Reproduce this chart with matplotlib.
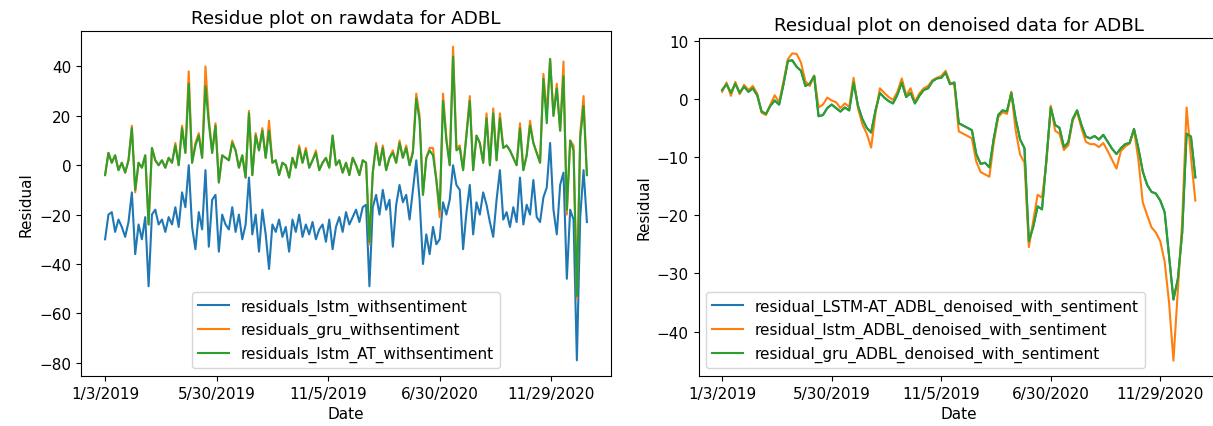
import numpy as np
import matplotlib
matplotlib.use('Agg')
import matplotlib.pyplot as plt

# trading-day positions of the date labels
tick_index = [0, 100, 200, 300, 400]
tick_labels = ['1/3/2019', '5/30/2019', '11/5/2019', '6/30/2020', '11/29/2020']

# raw data residuals, read every 3rd trading day
raw_lstm = [-30, -20, -19, -27, -22, -25, -29, -23, -11, -36, -24, -30, -21, -49, -20, -18, -24,
            -22, -27, -21, -24, -17, -25, -11, -17, 0, -25, -34, -19, -26, -2, -33, -14, -12, -35,
            -20, -24, -26, -17, -27, -20, -30, -24, -5, -28, -20, -35, -18, -28,
            -42, -24, -27, -22, -29, -25, -35, -22, -27, -20, -29, -24, -28, -23, -30, -26, -24,
            -31, -22, -34, -25, -21, -27, -19, -24, -21, -18, -23, -17, -16, -49, -17, -12, -20,
            -10, -18, -14, -33, -16, -8, -15, -12, -22, -10, 2, -14,
            -40, -28, -36, -25, -32, -30, -15, -20, -14, 0, -8, -10, -34, -19, -8, -28, -15, -20,
            -11, -16, -23, -29, -14, -2, -22, -19, -25, -17, -23, -5, -24, -16, -20, -6, -21, -23,
            -13, -9, 9, -18, -28, -8, -3, -46, -18, -22, -79, -21, -2, -23]
raw_gru = [-4, 5, 1, 4, -2, 1, -3, 2, 16, -11, 1, -1, 4, -24, 7, 2, 0, 2, -1, 3, 1, 9, 0, 16, 5,
           38, 1, 9, 13, 3, 40, 19, 5, 17, -7, 4, 3, 2, 10, 6, -1, 4, -5, 22, -4, 13, 6, 15, 3,
           18, 1, 2, -4, 1, 0, -5, 3, -1, 8, 1, 7, -1, 2, 6, -2, 1, 3, -1, 12, 0, 2, -3, 1, -4,
           3, 0, -4, 2, 1, -32, -3, 9, 0, 8, -2, 3, 6, 1, 10, 3, 8, 0, 6, 29, 20,
           -12, 3, 7, 7, -6, -21, 29, 11, 0, 48, 7, 8, -2, 13, 28, -2, 12, 9, 1, 21, 0, 23, 2,
           21, 7, 8, 6, 3, 0, 17, -2, 4, 18, 9, 5, 1, 37, 21, 43, 20, 33, 14, 42, -20, 10, 8,
           -54, 13, 28, -4]
raw_lstm_at = [-4, 5, 1, 4, -2, 1, -3, 2, 15, -10, 1, -1, 4, -24, 7, 2, 0, 2, -1, 3, 1, 8, 0, 15,
               5, 33, 1, 8, 12, 3, 32, 17, 5, 16, -7, 4, 3, 2, 9, 6, -1, 4, -5, 21, -4, 12, 6, 14, 3,
               14, 1, 2, -4, 1, 0, -5, 3, -1, 7, 1, 6, -1, 2, 5, -2, 1, 3, -1, 12, 0, 2, -3, 1, -4,
               3, 0, -4, 2, 1, -31, -3, 8, 0, 7, -2, 3, 5, 1, 9, 3, 7, 0, 5, 27, 18,
               -12, 3, 6, 4, -6, -18, 26, 10, 0, 44, 6, 7, -2, 12, 26, -2, 12, 9, 1, 19, 0, 21, 2,
               19, 7, 8, 6, 3, 0, 15, -2, 4, 16, 9, 5, 1, 35, 17, 43, 20, 31, 14, 36, -18, 10, 6,
               -53, 11, 24, -4]

# denoised data residuals, read every 4th trading day
dn_gru = [1.5, 2.5, 1.0, 2.6, 1.0, 2.1, 1.2, 1.8, 0.6, -2.2, -2.6, -1.2, -0.3, -1.0, 2.5, 6.5,
          6.6, 5.5, 4.8, 2.2, 2.6, 3.9, -3.0, -2.8, -1.6, -1.0, -1.6, -2.2, -1.5, -2.0, 2.8, -1.2,
          -3.5, -5.0, -5.8, -2.0, 1.0, 0.2, -0.4, -0.8, 0.7, 2.8, 0.3, 1.0, -0.8, 0.5, 1.5, 1.8,
          3.0, 3.5, 3.6, 4.5, 2.5, 2.8, -4.2,
          -4.6, -5.0, -5.4, -9.5, -11.2, -11.0, -11.8, -6.8, -2.8, -2.0, -2.2, 1.0, -3.5, -7.0,
          -8.5, -24.5, -22.0, -18.5, -19.0, -10.5, -1.5, -4.5, -5.0, -8.3, -7.5, -3.5, -2.0, -4.5,
          -6.5, -6.8, -6.4, -7.0, -6.2, -7.4, -8.6, -9.5, -8.5, -7.8, -7.6, -5.2, -8.5, -12.5,
          -14.8, -16.0, -16.3, -17.5, -19.5, -27.0, -34.5, -31.0, -23.0, -6.0, -6.5, -13.5]
dn_lstm = [1.2, 2.8, 0.5, 2.9, 0.8, 2.4, 1.5, 2.2, 0.9, -2.4, -2.8, -1.0, 0.6, -0.6, 3.0, 6.8,
           7.8, 7.7, 6.2, 3.0, 2.2, 4.0, -1.5, -1.0, 0.2, -0.3, -0.6, -1.6, -0.8, -1.4, 3.6, -1.6,
           -4.4, -6.0, -8.4, -2.5, 1.8, 1.0, 0.3, -0.2, 1.2, 3.5, 0.6, 1.8, -0.5, 0.9, 1.8, 2.2,
           3.2, 3.6, 3.9, 4.8, 2.8, 2.4, -5.6,
           -6.0, -6.4, -6.8, -10.8, -12.6, -13.0, -13.4, -7.5, -3.2, -2.3, -2.6, 1.2, -5.5, -9.6,
           -11.0, -25.5, -21.0, -16.5, -17.0, -11.0, -1.2, -5.5, -6.0, -8.8, -8.0, -3.8, -2.2,
           -5.0, -7.4, -7.8, -7.8, -8.3, -7.6, -9.0, -10.5, -12.0, -9.0, -8.2, -7.7, -5.3, -10.5,
           -17.8, -20.0, -22.1, -23.0, -24.5, -28.0, -35.0, -45.0, -33.0, -21.0, -1.5, -10.0, -17.5]
# LSTM-AT line sits exactly under the gru line in the picture
dn_lstm_at = list(dn_gru)

RAW_STEP = 3
DN_STEP = 4

plt.rcParams['font.size'] = 11
fig = plt.figure(figsize=(12.13, 4.27), dpi=100)
W, H = 1213, 427

ax1 = fig.add_axes([81 / W, 50 / H, 530 / W, 345 / H])
x = np.arange(len(raw_lstm)) * RAW_STEP
ax1.plot(x, raw_lstm, label='residuals_lstm_withsentiment')
ax1.plot(x, raw_gru, label='residuals_gru_withsentiment')
ax1.plot(x, raw_lstm_at, label='residuals_lstm_AT_withsentiment')
ax1.set_xticks(tick_index)
ax1.set_xticklabels(tick_labels)
ax1.set_title('Residue plot on rawdata for ADBL')
ax1.set_xlabel('Date')
ax1.set_ylabel('Residual')
ax1.legend(loc='lower center')

ax2 = fig.add_axes([698.5 / W, 50 / H, 520.5 / W, 338 / H])
x2 = np.arange(len(dn_gru)) * DN_STEP
ax2.plot(x2, dn_lstm_at, label='residual_LSTM-AT_ADBL_denoised_with_sentiment')
ax2.plot(x2, dn_lstm, label='residual_lstm_ADBL_denoised_with_sentiment')
ax2.plot(x2, dn_gru, label='residual_gru_ADBL_denoised_with_sentiment')
ax2.set_xticks(tick_index)
ax2.set_xticklabels(tick_labels)
ax2.set_title('Residual plot on denoised data for ADBL')
ax2.set_xlabel('Date')
ax2.set_ylabel('Residual')
ax2.legend(loc='lower left')

fig.savefig('out.png', dpi=100)
